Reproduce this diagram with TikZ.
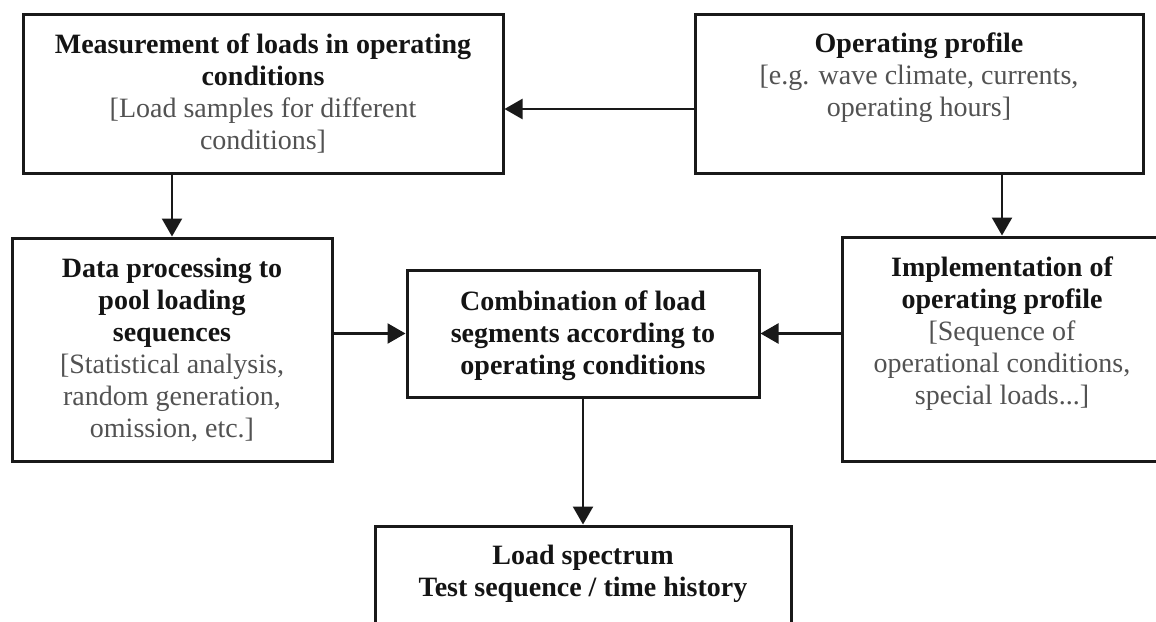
\documentclass[tikz,border=0pt]{standalone}
\usepackage{fontspec}
\setmainfont{Liberation Serif}
\usetikzlibrary{arrows.meta}
\newcommand{\hd}[1]{\textbf{\color{black!92}#1}}
\begin{document}
\begin{tikzpicture}[x=0.5pt,y=-0.5pt,
  box/.style={draw=black!90, line width=1.5pt, inner sep=0pt},
  txt/.style={anchor=north, align=center, inner sep=0pt, font=\fontsize{14}{16}\selectfont, text=black!68},
  arr/.style={line width=1.2pt, draw=black!90, -{Triangle[length=9pt,width=10pt]}}]
\clip (0,0) rectangle (1156,621);
\fill[white] (0,0) rectangle (1156,621);
% boxes
\node[box, minimum width=240pt, minimum height=79.5pt] (B1) at (263,93.5) {};
\node[box, minimum width=224pt, minimum height=79.5pt] (B2) at (919,93.5) {};
\node[box, minimum width=160pt, minimum height=111.5pt] (B3) at (172,349.5) {};
\node[box, minimum width=176pt, minimum height=63.5pt] (B4) at (583,333.5) {};
\node[box, minimum width=160pt, minimum height=112pt] (B5) at (1002,349) {};
\node[box, minimum width=208pt, minimum height=52pt] (B6) at (583,578) {};
% texts
\node[txt] (T1) at ([yshift=-10.5pt]B1.north) {\hd{Measurement of loads in operating}\\ \hd{conditions}\\ {[}Load samples for different\\ conditions]};
\node[txt] (T2) at ([yshift=-10pt]B2.north) {\hd{Operating profile}\\ {[}e.g. wave climate, currents,\\ operating hours]};
\node[txt] (T3) at ([yshift=-10.5pt]B3.north) {\hd{Data processing to}\\ \hd{pool loading}\\ \hd{sequences}\\ {[}Statistical analysis,\\ random generation,\\ omission, etc.]};
\node[txt] (T4) at ([yshift=-11pt]B4.north) {\hd{Combination of load}\\ \hd{segments according to}\\ \hd{operating conditions}};
\node[txt] (T5) at ([yshift=-10.5pt]B5.north) {\hd{Implementation of}\\ \hd{operating profile}\\ {[}Sequence of\\ operational conditions,\\ special loads...]};
\node[txt] (T6) at ([yshift=-10pt]B6.north) {\hd{Load spectrum}\\ \hd{Test sequence / time history}};
% connectors
\draw[arr] ([yshift=-7.75pt]B2.west) -- ([yshift=-7.75pt]B1.east);
\draw[arr] (B3.north |- B1.south) -- (B3.north);
\draw[arr] (B5.north |- B2.south) -- (B5.north);
\draw[arr] (B3.east |- B4.west) -- (B4.west);
\draw[arr] (B5.west |- B4.east) -- (B4.east);
\draw[arr] (B4.south) -- (B6.north);
\end{tikzpicture}
\end{document}
